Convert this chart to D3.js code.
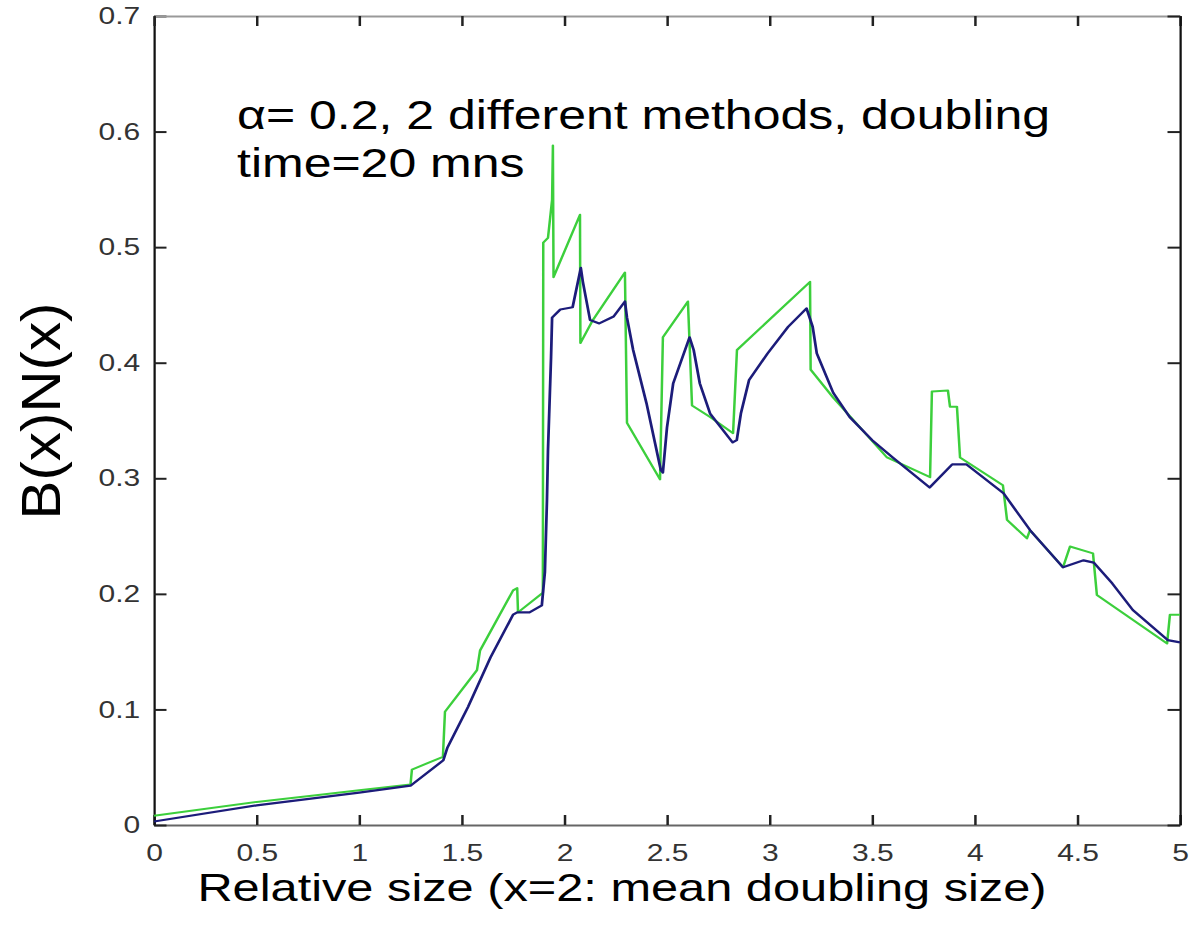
<!DOCTYPE html>
<html>
<head>
<meta charset="utf-8">
<script src="https://cdn.jsdelivr.net/npm/d3@7"></script>
<style>
  body { margin: 0; background: #fff; }
</style>
</head>
<body>
<div id="chart"></div>
<script>
// tick values
var xTicks = [0, 0.5, 1, 1.5, 2, 2.5, 3, 3.5, 4, 4.5, 5];
var yTicks = [0, 0.1, 0.2, 0.3, 0.4, 0.5, 0.6, 0.7];

// method 1 (dark blue), [x, B(x)N(x)]
var blueLine = [
  [0, 0.003], [0.5, 0.017], [1.0, 0.028], [1.25, 0.034], [1.41, 0.056], [1.43, 0.067],
  [1.53, 0.102], [1.64, 0.145], [1.75, 0.182], [1.77, 0.184], [1.83, 0.184], [1.89, 0.19],
  [1.905, 0.219], [1.915, 0.281], [1.92, 0.324], [1.935, 0.405], [1.94, 0.439], [1.98, 0.446],
  [2.04, 0.448], [2.08, 0.482], [2.09, 0.47], [2.125, 0.437], [2.17, 0.434], [2.24, 0.44],
  [2.295, 0.453], [2.305, 0.439], [2.335, 0.411], [2.40, 0.365], [2.47, 0.307], [2.48, 0.305],
  [2.50, 0.344], [2.53, 0.382], [2.61, 0.422], [2.63, 0.411], [2.66, 0.382], [2.71, 0.356],
  [2.82, 0.331], [2.84, 0.333], [2.86, 0.356], [2.90, 0.385], [2.99, 0.408], [3.09, 0.431],
  [3.18, 0.447], [3.21, 0.431], [3.23, 0.408], [3.31, 0.374], [3.39, 0.353], [3.50, 0.333],
  [3.60, 0.318], [3.78, 0.292], [3.89, 0.312], [3.96, 0.312], [4.14, 0.287], [4.27, 0.255],
  [4.43, 0.223], [4.53, 0.229], [4.58, 0.227], [4.67, 0.209], [4.77, 0.186], [4.94, 0.160],
  [5.0, 0.158]
];

// method 2 (green)
var greenLine = [
  [0, 0.008], [0.5, 0.02], [0.8, 0.026], [1.0, 0.03], [1.25, 0.035], [1.257, 0.048],
  [1.408, 0.059], [1.418, 0.098], [1.574, 0.134], [1.589, 0.151], [1.75, 0.203], [1.77, 0.205],
  [1.774, 0.184], [1.895, 0.201], [1.897, 0.504], [1.92, 0.508], [1.94, 0.541], [1.944, 0.588],
  [1.947, 0.474], [2.076, 0.528], [2.078, 0.417], [2.139, 0.437], [2.295, 0.478], [2.305, 0.348],
  [2.466, 0.299], [2.48, 0.422], [2.602, 0.453], [2.622, 0.363], [2.71, 0.353], [2.822, 0.339],
  [2.841, 0.411], [3.197, 0.470], [3.20, 0.394], [3.309, 0.370], [3.572, 0.318], [3.782, 0.301],
  [3.791, 0.375], [3.869, 0.376], [3.879, 0.362], [3.913, 0.362], [3.928, 0.318], [4.137, 0.294],
  [4.157, 0.264], [4.254, 0.248], [4.269, 0.255], [4.43, 0.223], [4.464, 0.241], [4.576, 0.235],
  [4.595, 0.199], [4.937, 0.157], [4.951, 0.182], [5.0, 0.182]
];

var noteLines = ["\u03b1= 0.2, 2 different methods, doubling", "time=20 mns"];

// the picture is stretched sideways, so draw in narrower units and let the viewBox widen it
var stretch = 1.25;
var W = 1198, H = 935;
var vw = W / stretch;
var margin = {top: 16, right: vw - 944, bottom: H - 825, left: 123.2},
    width = vw - margin.left - margin.right,
    height = H - margin.top - margin.bottom;

var svg = d3.select("#chart")
  .append("svg")
  .attr("width", W)
  .attr("height", H)
  .attr("viewBox", "0 0 " + vw + " " + H)
  .attr("preserveAspectRatio", "none")
  .style("font-family", "'Liberation Sans', Arial, sans-serif");

var g = svg.append("g")
  .attr("transform", "translate(" + margin.left + "," + margin.top + ")");

var x = d3.scaleLinear().domain([0, 5]).range([0, width]);
var y = d3.scaleLinear().domain([0, 0.7]).range([height, 0]);

// axes, ticks pointing inwards like matlab
var xAxis = g.append("g")
  .attr("transform", "translate(0," + height + ")")
  .call(d3.axisBottom(x).tickValues(xTicks).tickFormat(d3.format("")).tickSize(-10).tickSizeOuter(0).tickPadding(19));

var yAxis = g.append("g")
  .call(d3.axisLeft(y).tickValues(yTicks).tickFormat(d3.format("")).tickSize(-10).tickSizeOuter(0).tickPadding(11));

var topAxis = g.append("g")
  .call(d3.axisTop(x).tickValues(xTicks).tickFormat("").tickSize(-10).tickSizeOuter(0));

var rightAxis = g.append("g")
  .attr("transform", "translate(" + width + ",0)")
  .call(d3.axisRight(y).tickValues(yTicks).tickFormat("").tickSize(-10).tickSizeOuter(0));

[xAxis, yAxis, topAxis, rightAxis].forEach(function(a) {
  a.selectAll("line").attr("stroke", "#222").attr("stroke-width", 2);
  a.selectAll("text").style("font-size", "24px").attr("fill", "#333");
});
xAxis.select(".domain").attr("stroke", "#666").attr("stroke-width", 2);
topAxis.select(".domain").attr("stroke", "#999").attr("stroke-width", 2);
yAxis.select(".domain").attr("stroke", "#111").attr("stroke-width", 1.8);
rightAxis.select(".domain").attr("stroke", "#111").attr("stroke-width", 1.8);

// the two curves
var line = d3.line()
  .x(function(d) { return x(d[0]); })
  .y(function(d) { return y(d[1]); });

g.append("path")
  .datum(greenLine)
  .attr("fill", "none")
  .attr("stroke", "#3ccf3c")
  .attr("stroke-width", 2)
  .attr("stroke-linejoin", "round")
  .attr("d", line);

g.append("path")
  .datum(blueLine)
  .attr("fill", "none")
  .attr("stroke", "#1c1c7a")
  .attr("stroke-width", 2.2)
  .attr("stroke-linejoin", "round")
  .attr("d", line);

// annotation
svg.selectAll(".note")
  .data(noteLines)
  .enter().append("text")
  .attr("class", "note")
  .attr("x", 237 / stretch)
  .attr("y", function(d, i) { return 129 + i * 48; })
  .style("font-size", "40px")
  .attr("fill", "#000")
  .text(function(d) { return d; });

// axis titles
svg.append("text")
  .attr("x", 622 / stretch)
  .attr("y", 901)
  .attr("text-anchor", "middle")
  .style("font-size", "39px")
  .attr("fill", "#000")
  .text("Relative size (x=2: mean doubling size)");

svg.append("text")
  .attr("transform", "translate(" + (60 / stretch) + ",411) rotate(-90)")
  .attr("text-anchor", "middle")
  .attr("textLength", 217)
  .attr("lengthAdjust", "spacingAndGlyphs")
  .style("font-size", "45px")
  .attr("fill", "#000")
  .text("B(x)N(x)");
</script>
</body>
</html>
